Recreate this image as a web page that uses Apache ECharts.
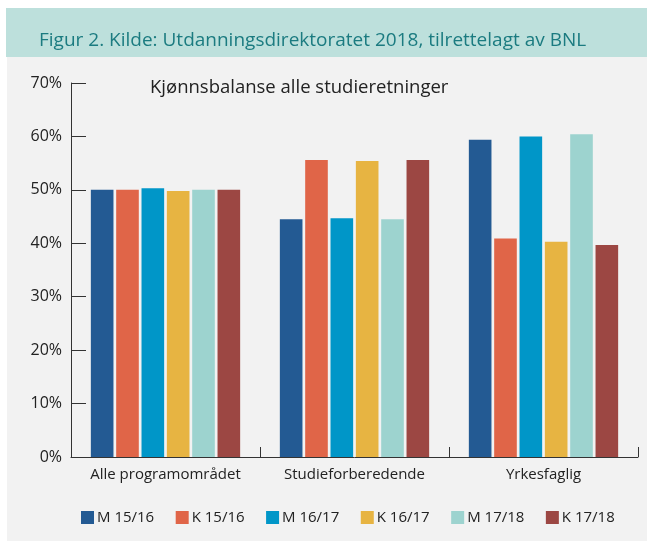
<!DOCTYPE html>
<html>
<head>
<meta charset="utf-8">
<script src="https://cdn.jsdelivr.net/npm/echarts@6/dist/echarts.min.js"></script>
<style>
html,body{margin:0;padding:0;background:#ffffff;}
#chart{width:647px;height:541px;}
</style>
</head>
<body>
<div id="chart"></div>
<script>
const categories = ['Alle programområdet', 'Studieforberedende', 'Yrkesfaglig'];
const seriesNames = ['M 15/16', 'K 15/16', 'M 16/17', 'K 16/17', 'M 17/18', 'K 17/18'];
const m1516 = [50.0, 44.5, 59.4];
const k1516 = [50.0, 55.6, 40.9];
const m1617 = [50.3, 44.7, 60.0];
const k1617 = [49.8, 55.4, 40.3];
const m1718 = [50.0, 44.5, 60.4];
const k1718 = [50.0, 55.6, 39.7];
const colors = ['#235a93', '#e06548', '#0096c8', '#e7b442', '#9dd3cf', '#9c4743'];
const headerText = 'Figur 2. Kilde: Utdanningsdirektoratet 2018, tilrettelagt av BNL';
const subtitleText = 'Kjønnsbalanse alle studieretninger';

const allValues = [m1516, k1516, m1617, k1617, m1718, k1718];
const FONT = 'Open Sans';

const chart = echarts.init(document.getElementById('chart'), null, {renderer: 'canvas'});
chart.setOption({
  animation: false,
  backgroundColor: '#ffffff',
  graphic: [
    {type: 'rect', z: -10, shape: {x: 7, y: 57, width: 640, height: 484}, style: {fill: '#f2f2f2'}},
    {type: 'rect', z: -10, shape: {x: 6, y: 8, width: 641, height: 49}, style: {fill: '#bde0dc'}}
  ],
  title: [
    {text: headerText, left: 34, top: 26, textStyle: {fontFamily: FONT, fontSize: 19, fontWeight: 'normal', color: '#1b7b80'}},
    {text: subtitleText, left: 145, top: 73, textStyle: {fontFamily: FONT, fontSize: 18.5, fontWeight: 'normal', color: '#222222'}}
  ],
  color: colors,
  legend: {
    data: seriesNames,
    top: 505,
    left: 76,
    icon: 'rect',
    itemWidth: 13,
    itemHeight: 13,
    itemGap: 21.5,
    textStyle: {fontFamily: FONT, fontSize: 15, color: '#222222', padding: [0, 0, 0, -2]}
  },
  grid: {left: 71, right: 9, top: 83, bottom: 84, containLabel: false},
  xAxis: {
    type: 'category',
    data: categories,
    axisLine: {lineStyle: {color: '#333333', width: 1}},
    axisTick: {show: true, inside: true, length: 10, lineStyle: {color: '#333333'}},
    axisLabel: {fontFamily: FONT, fontSize: 15, color: '#222222', margin: 10, interval: 0, hideOverlap: false}
  },
  yAxis: {
    type: 'value',
    min: 0,
    max: 70,
    interval: 10,
    axisLine: {show: true, lineStyle: {color: '#333333', width: 1}},
    axisTick: {show: true, inside: true, length: 15, lineStyle: {color: '#333333'}},
    splitLine: {show: false},
    axisLabel: {fontFamily: FONT, fontSize: 16, color: '#222222', margin: 9, formatter: '{value}%'}
  },
  series: seriesNames.map((name, i) => ({
    name: name,
    type: 'bar',
    data: allValues[i],
    barGap: '12%',
    barCategoryGap: '21%'
  }))
});
</script>
</body>
</html>
